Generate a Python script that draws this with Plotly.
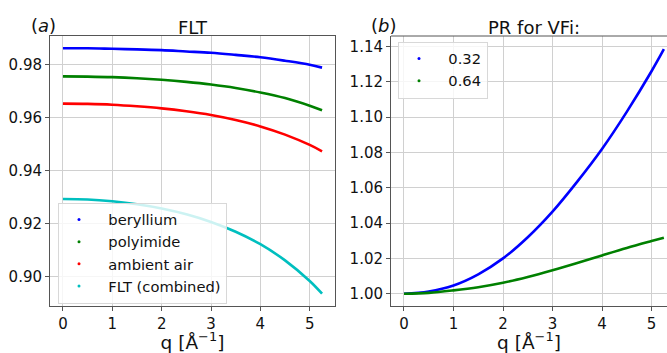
import plotly.graph_objects as go

# q grid (Å^-1) at which the curves are tabulated
q = [0.0, 0.5, 1.0, 1.5, 2.0, 2.5, 3.0, 3.5, 4.0, 4.5, 5.0, 5.25]

# Flat-layer transmission (FLT) per material and combined
flt_beryllium = [0.9863, 0.9863, 0.9861, 0.9859, 0.9856, 0.9851, 0.9846, 0.9838, 0.9829, 0.9816, 0.9801, 0.9790]
flt_polyimide = [0.9757, 0.9756, 0.9754, 0.9750, 0.9744, 0.9736, 0.9726, 0.9713, 0.9696, 0.9675, 0.9646, 0.9629]
flt_air = [0.9654, 0.9653, 0.9650, 0.9644, 0.9636, 0.9625, 0.9611, 0.9592, 0.9568, 0.9537, 0.9498, 0.9474]
flt_combined = [0.9294, 0.9292, 0.9285, 0.9274, 0.9258, 0.9236, 0.9207, 0.9170, 0.9123, 0.9062, 0.8984, 0.8936]

# PR for two VFi values
pr_032 = [1.0000, 1.0013, 1.0047, 1.0110, 1.0200, 1.0320, 1.0465, 1.0635, 1.0820, 1.1030, 1.1260, 1.1385]
pr_064 = [1.0000, 1.0005, 1.0019, 1.0037, 1.0062, 1.0095, 1.0133, 1.0174, 1.0217, 1.0259, 1.0298, 1.0317]

flt_names = ["beryllium", "polyimide", "ambient air", "FLT (combined)"]
flt_series = [flt_beryllium, flt_polyimide, flt_air, flt_combined]
flt_colors = ["#0000ff", "#008000", "#ff0000", "#00bfbf"]

pr_names = ["0.32", "0.64"]
pr_series = [pr_032, pr_064]
pr_colors = ["#0000ff", "#008000"]

W, H = 667, 353
FONT = "DejaVu Sans"
PAD = "\u00a0\u00a0"  # gap between legend dot and its label


def px(x):
    return x / W


def py(y):
    return 1 - y / H


fig = go.Figure()

for name, ys, col in zip(flt_names, flt_series, flt_colors):
    fig.add_trace(go.Scatter(x=q, y=ys, mode="lines", line=dict(color=col, width=2.6, shape="spline"),
                             showlegend=False, xaxis="x", yaxis="y", hoverinfo="skip"))
    fig.add_trace(go.Scatter(x=[None], y=[None], mode="markers", name=PAD + name,
                             marker=dict(color=col, size=3), legend="legend", xaxis="x", yaxis="y"))

for name, ys, col in zip(pr_names, pr_series, pr_colors):
    fig.add_trace(go.Scatter(x=q, y=ys, mode="lines", line=dict(color=col, width=2.6, shape="spline"),
                             showlegend=False, xaxis="x2", yaxis="y2", hoverinfo="skip"))
    fig.add_trace(go.Scatter(x=[None], y=[None], mode="markers", name=PAD + name,
                             marker=dict(color=col, size=3), legend="legend2", xaxis="x2", yaxis="y2"))

axis_common = dict(
    showgrid=True, gridcolor="#d0d0d0", gridwidth=1,
    showline=True, linecolor="#555555", linewidth=1,
    ticks="outside", ticklen=4, tickcolor="#555555",
    tickfont=dict(family=FONT, size=15, color="#111111"),
    zeroline=False, automargin=False,
)

xtitle = dict(text="q [Å<sup>−1</sup>]", font=dict(family=FONT, size=18.5, color="#111111"), standoff=11)

legend_common = dict(
    xanchor="left", yanchor="top",
    bgcolor="rgba(255,255,255,0.8)", bordercolor="#d8d8d8", borderwidth=1,
    font=dict(family=FONT, size=14.7, color="#111111"), itemwidth=30, tracegroupgap=0,
)

fig.update_layout(
    width=W, height=H,
    margin=dict(l=0, r=0, t=0, b=0),
    paper_bgcolor="white", plot_bgcolor="white",
    xaxis=dict(domain=[px(50), px(335)], range=[-0.2625, 5.5125], tickvals=[0, 1, 2, 3, 4, 5],
               mirror=True, anchor="y", title=xtitle, **axis_common),
    yaxis=dict(domain=[py(306), py(36)], range=[0.88897, 0.99094], tickvals=[0.90, 0.92, 0.94, 0.96, 0.98],
               tickformat=".2f", mirror=True, anchor="x", **axis_common),
    xaxis2=dict(domain=[px(391), 1.0], range=[-0.2625, 5.313], tickvals=[0, 1, 2, 3, 4, 5],
                anchor="y2", title=xtitle, **axis_common),
    yaxis2=dict(domain=[py(306), py(36)], range=[0.99305, 1.14595],
                tickvals=[1.00, 1.02, 1.04, 1.06, 1.08, 1.10, 1.12, 1.14],
                tickformat=".2f", anchor="x2", **axis_common),
    legend=dict(x=px(58), y=py(202.5), **legend_common),
    legend2=dict(x=px(398), y=py(41.5), **legend_common),
    showlegend=True,
)

# top border of the right panel
fig.add_shape(type="line", xref="x2 domain", yref="y2 domain", x0=0, x1=1, y0=1, y1=1,
              line=dict(color="#555555", width=1))

annots = [
    dict(text="FLT", x=px(192.5), y=py(27)),
    dict(text="PR for VFi:", x=px(534), y=py(27)),
    dict(text="(<i>a</i>)", x=px(43), y=py(25)),
    dict(text="(<i>b</i>)", x=px(384), y=py(25)),
]
for a in annots:
    fig.add_annotation(text=a["text"], x=a["x"], y=a["y"], xref="paper", yref="paper",
                       xanchor="center", yanchor="middle", showarrow=False,
                       font=dict(family=FONT, size=18, color="#111111"))

fig.write_html("out.html")
